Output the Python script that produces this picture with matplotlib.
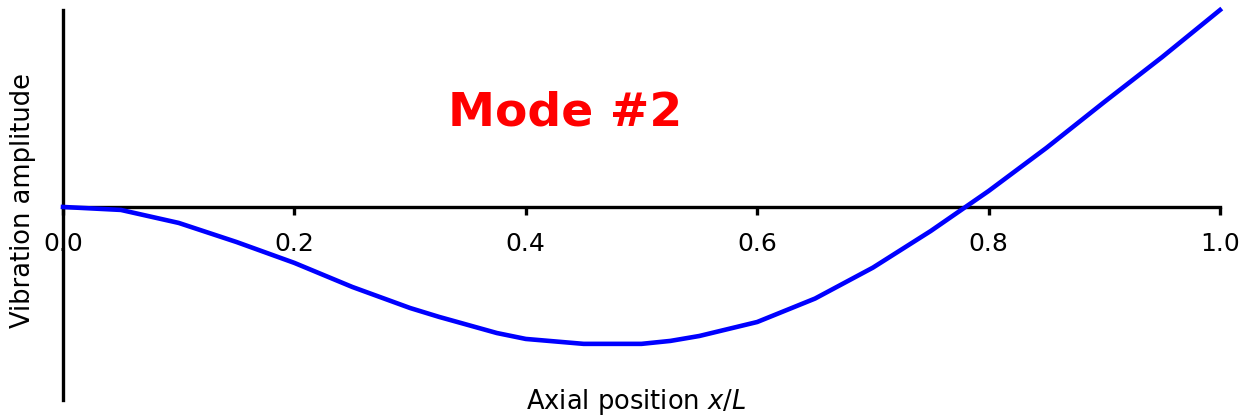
import numpy as np
import matplotlib
matplotlib.use("Agg")
import matplotlib.pyplot as plt

# Forma do segundo modo de vibração (amplitude normalizada)
posicao = [0.0, 0.05, 0.1, 0.15, 0.2, 0.25, 0.3, 0.325, 0.35, 0.375, 0.4,
           0.45, 0.5, 0.525, 0.55, 0.6, 0.65, 0.7, 0.75, 0.8, 0.85, 0.9, 0.95, 1.0]
amplitude = [0.0, -0.015, -0.081, -0.178, -0.284, -0.406, -0.513, -0.558, -0.599,
             -0.640, -0.670, -0.695, -0.695, -0.680, -0.655, -0.584, -0.465, -0.308,
             -0.122, 0.081, 0.300, 0.533, 0.761, 1.0]
ticks_x = [0.0, 0.2, 0.4, 0.6, 0.8, 1.0]

fig = plt.figure(figsize=(12.47, 4.20), dpi=100)
ax = fig.add_axes([63/1247, 20/420, 1157/1247, 390/420])

ax.plot(posicao, amplitude, color="#0000ff", lw=3.3, clip_on=False, zorder=3)

ax.set_xlim(0, 1.0)
ax.set_ylim(-0.98, 1.0)

# Eixos cruzando no zero
ax.spines["bottom"].set_position(("data", 0))
ax.spines["top"].set_visible(False)
ax.spines["right"].set_visible(False)
ax.spines["bottom"].set_linewidth(2.4)
ax.spines["left"].set_linewidth(2.4)

ax.set_yticks([])
ax.set_xticks(ticks_x)
ax.set_xticklabels(["%.1f" % t for t in ticks_x])
ax.tick_params(axis="x", direction="out", length=6, width=2.4, pad=12, labelsize=18)

ax.text(0.434, 0.477, "Mode #2", color="red", fontsize=34, fontweight="bold",
        ha="center", va="center")

fig.text(636/1247, 1 - 402/420, r"Axial position $x/L$", fontsize=18.5,
         ha="center", va="center")
fig.text(23/1247, 1 - 200/420, "Vibration amplitude", fontsize=18.5,
         rotation=90, ha="center", va="center")

fig.savefig("out.png", dpi=100)
